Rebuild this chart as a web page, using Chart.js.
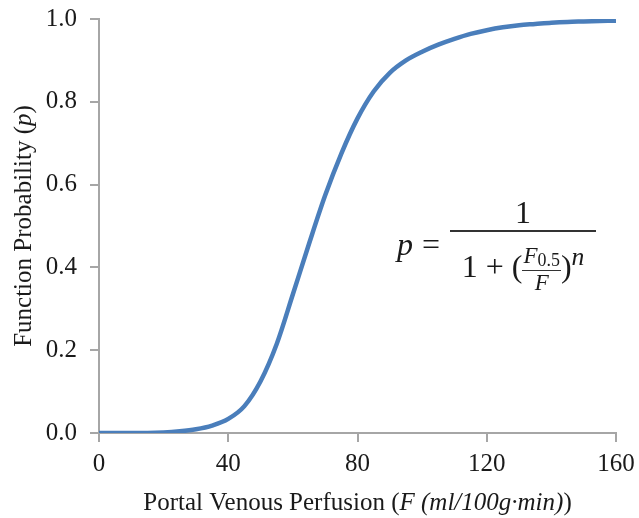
<!DOCTYPE html>
<html>
<head>
<meta charset="utf-8">
<script src="https://cdn.jsdelivr.net/npm/chart.js@4.4.1/dist/chart.umd.min.js"></script>
<style>
  body { margin: 0; background: #fff; }
  #wrap { position: relative; width: 639px; height: 518px; }
  .eq { position: absolute; left: 397px; top: 195px; font-family: 'Liberation Serif', serif; font-size: 32px; color: #1a1a1a; display: flex; align-items: center; white-space: nowrap; }
  .eq i { font-style: italic; }
  .frac { display: inline-flex; flex-direction: column; align-items: center; }
  .frac > .num { border-bottom: 2px solid #333; line-height: 1.1; text-align: center; }
  .frac > .den { line-height: 1.2; padding-top: 10px; }
  .small { font-size: 23px; vertical-align: middle; }
  .small > .num { border-bottom: 1.5px solid #333; padding: 0 1px; line-height: 1.05; }
  .small > .den { padding-top: 0; line-height: 1.05; }
  .small sub { font-size: 78%; vertical-align: -3px; }
  sup { font-size: 80%; }
</style>
</head>
<body>
<div id="wrap">
  <canvas id="myChart" width="639" height="518"></canvas>
  <div class="eq">
    <i style="margin-right:9px">p</i><span style="margin-right:10px">=</span>
    <span class="frac">
      <span class="num" style="width:146px">1</span>
      <span class="den">1 + (<span class="frac small"><span class="num"><i>F</i><sub>0.5</sub></span><span class="den"><i>F</i></span></span>)<sup><i>n</i></sup></span>
    </span>
  </div>
</div>
<script>
//Portal venous perfusion values (x axis)
const flowX = [0, 5, 10, 15, 20, 25, 30, 35, 40, 45, 50, 55, 60, 65, 70, 75, 80,
               85, 90, 95, 100, 105, 110, 115, 120, 125, 130, 135, 140, 145, 150, 155, 160];

//Function probability
const probP = [0, 0, 0, 0, 0.001, 0.004, 0.009, 0.018, 0.034, 0.065, 0.125, 0.215, 0.335, 0.457, 0.574, 0.675, 0.760,
               0.825, 0.870, 0.900, 0.921, 0.938, 0.952, 0.964, 0.973, 0.980, 0.985, 0.988, 0.991, 0.993, 0.994, 0.995, 0.996];

//Tick values for both axes
const xTicks = [0, 40, 80, 120, 160];
const yTicks = [0, 0.2, 0.4, 0.6, 0.8, 1.0];

const serif = "'Liberation Serif', 'Times New Roman', serif";
const axisGray = '#a6a6a6';

//Draw a line of text made of normal and italic pieces, centred at (cx, cy)
function drawMixed(ctx, parts, cx, cy, size, angle)
{
    ctx.save();
    ctx.translate(cx, cy);
    ctx.rotate(angle);
    ctx.fillStyle = '#1a1a1a';
    ctx.textBaseline = 'alphabetic';
    ctx.textAlign = 'left';

    var total = 0;
    parts.forEach(p => {
        ctx.font = (p[1] ? 'italic ' : '') + size + 'px ' + serif;
        total += ctx.measureText(p[0]).width;
    });

    var x = -total / 2;
    parts.forEach(p => {
        ctx.font = (p[1] ? 'italic ' : '') + size + 'px ' + serif;
        ctx.fillText(p[0], x, 0);
        x += ctx.measureText(p[0]).width;
    });
    ctx.restore();
}

const axisTitles = {
    id: 'axisTitles',
    afterDraw(chart) {
        const ctx = chart.ctx;
        const area = chart.chartArea;
        drawMixed(ctx, [['Portal Venous Perfusion (', false], ['F', true], [' (ml/100g\u00b7min)', true], [')', false]],
                  (area.left + area.right) / 2, 510, 25, 0);
        drawMixed(ctx, [['Function Probability (', false], ['p', true], [')', false]],
                  31, (area.top + area.bottom) / 2, 25, -Math.PI / 2);
    }
};

myChart();

function myChart()
{
    const points = flowX.map((x, i) => ({ x: x, y: probP[i] }));

    const ctx = document.getElementById('myChart').getContext('2d');

    new Chart(ctx, {
        type: 'line',
        data: {
            datasets: [{
                data: points,
                borderColor: '#4a7ebb',
                borderWidth: 4.5,
                pointRadius: 0,
                cubicInterpolationMode: 'monotone',
                fill: false
            }]
        },
        options: {
            responsive: false,
            animation: false,
            layout: {
                padding: { top: 19, right: 23, left: 0, bottom: 0 }
            },
            plugins: {
                legend: { display: false },
                tooltip: { enabled: false }
            },
            scales: {
                x: {
                    type: 'linear',
                    min: 0,
                    max: 160,
                    afterBuildTicks: scale => { scale.ticks = xTicks.map(v => ({ value: v })); },
                    afterFit: scale => { scale.height = 85; scale.paddingLeft = 0; scale.paddingRight = 0; },
                    grid: { drawOnChartArea: false, drawTicks: true, tickLength: 9, color: axisGray, lineWidth: 2 },
                    border: { display: true, color: axisGray, width: 2 },
                    ticks: {
                        padding: 7,
                        color: '#1a1a1a',
                        font: { family: serif, size: 25 }
                    }
                },
                y: {
                    min: 0,
                    max: 1,
                    afterBuildTicks: scale => { scale.ticks = yTicks.map(v => ({ value: v })); },
                    afterFit: scale => { scale.width = 99; scale.paddingTop = 0; scale.paddingBottom = 0; },
                    grid: { drawOnChartArea: false, drawTicks: true, tickLength: 9, color: axisGray, lineWidth: 2 },
                    border: { display: true, color: axisGray, width: 2 },
                    ticks: {
                        padding: 13,
                        color: '#1a1a1a',
                        font: { family: serif, size: 25 },
                        callback: v => v.toFixed(1)
                    }
                }
            }
        },
        plugins: [axisTitles]
    });
}
</script>
</body>
</html>
